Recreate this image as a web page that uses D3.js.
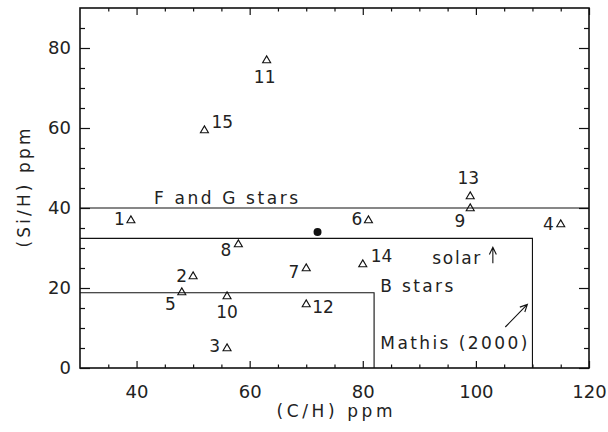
<!DOCTYPE html>
<html>
<head>
<meta charset="utf-8">
<script src="https://cdn.jsdelivr.net/npm/d3@7"></script>
<style>
  html, body { margin: 0; padding: 0; background: #fff; }
  svg { display: block; }
  text { font-family: "DejaVu Sans", "Liberation Sans", sans-serif; font-weight: normal; fill: #222; }
</style>
</head>
<body>
<svg id="chart" width="608" height="432"></svg>
<script>
// Star identifiers and their carbon / silicon abundances (ppm relative to H)
const starIds = ["1","2","3","4","5","6","7","8","9","10","11","12","13","14","15"];
const carbonPpm = [39, 50, 56, 115, 48, 81, 70, 58, 99, 56, 63, 70, 99, 80, 52];
const siliconPpm = [37, 23, 5, 36, 19, 37, 25, 31, 40, 18, 77, 16, 43, 26, 59.5];

// Solar reference point
const solarPoint = [72, 34];

// Reference abundance levels
const fgStarsSi = 40;
const mathisC = 110, mathisSi = 32.4;
const bStarsC = 82, bStarsSi = 18.8;

// Axis ticks
const xMajor = [40, 60, 80, 100, 120];
const yMajor = [0, 20, 40, 60, 80];
const xMinor = d3.range(35, 120, 5).filter(v => !xMajor.includes(v));
const yMinor = d3.range(5, 90, 5).filter(v => !yMajor.includes(v));

// Label placement around each triangle: [dx, dy, anchor]
const labelPlace = [
  [-6, 5, "end"], [-6, 6, "end"], [-7, 4, "end"], [-7, 6, "end"], [-6, 18, "end"],
  [-6, 5, "end"], [-7, 10, "end"], [-7, 12, "end"], [-5, 19, "end"], [0, 22, "middle"],
  [-2, 23, "middle"], [6, 9, "start"], [-2, -12, "middle"], [8, -2, "start"], [7, -2, "start"]
];

const svg = d3.select("#chart");
const x = d3.scaleLinear().domain([30, 120]).range([80, 589]);
const y = d3.scaleLinear().domain([0, 90]).range([368, 8]);

// Tick marks on all four sides, pointing inward
function drawAxis(axis, transform, labels) {
  const g = svg.append("g").attr("transform", transform).call(axis);
  g.select(".domain").remove();
  g.selectAll(".tick line").attr("stroke", "#111").attr("stroke-width", 1.2);
  g.selectAll("text").attr("font-size", 18).attr("fill", "#222")
    .style("font-family", "\"DejaVu Sans\", sans-serif");
  if (!labels) g.selectAll("text").remove();
  return g;
}
drawAxis(d3.axisBottom(x).tickValues(xMajor).tickSize(-7).tickPadding(17).tickFormat(d3.format("d")), "translate(0,368)", true);
drawAxis(d3.axisBottom(x).tickValues(xMinor).tickSize(-3.5).tickFormat(""), "translate(0,368)", false);
drawAxis(d3.axisTop(x).tickValues(xMajor).tickSize(-7).tickFormat(""), "translate(0,8)", false);
drawAxis(d3.axisTop(x).tickValues(xMinor).tickSize(-3.5).tickFormat(""), "translate(0,8)", false);
drawAxis(d3.axisLeft(y).tickValues(yMajor).tickSize(-10).tickPadding(9).tickFormat(d3.format("d")), "translate(80,0)", true);
drawAxis(d3.axisLeft(y).tickValues(yMinor).tickSize(-5).tickFormat(""), "translate(80,0)", false);
drawAxis(d3.axisRight(y).tickValues(yMajor).tickSize(-10).tickFormat(""), "translate(589,0)", false);
drawAxis(d3.axisRight(y).tickValues(yMinor).tickSize(-5).tickFormat(""), "translate(589,0)", false);

// Plot frame
svg.append("rect")
  .attr("x", x(30)).attr("y", y(90))
  .attr("width", x(120) - x(30)).attr("height", y(0) - y(90))
  .attr("fill", "none").attr("stroke", "#111").attr("stroke-width", 1.6);

// Reference levels: F and G stars, Mathis (2000), B stars
const refLines = svg.append("g").attr("fill", "none").attr("stroke", "#111").attr("stroke-width", 1.1);
refLines.append("line").attr("x1", x(30)).attr("x2", x(120)).attr("y1", y(fgStarsSi)).attr("y2", y(fgStarsSi));
refLines.append("path").attr("d", `M${x(30)},${y(mathisSi)}H${x(mathisC)}V${y(0)}`);
refLines.append("path").attr("d", `M${x(30)},${y(bStarsSi)}H${x(bStarsC)}V${y(0)}`);

// Annotations
function note(txt, cx, cy, len) {
  svg.append("text").attr("x", x(cx)).attr("y", y(cy)).attr("font-size", 17)
    .attr("textLength", len).attr("lengthAdjust", "spacing").text(txt);
}
note("F and G stars", 43.1, 40.9, 144);
note("solar", 92.3, 25.9, 48);
note("B stars", 83.1, 18.9, 73);
note("Mathis (2000)", 83.1, 4.7, 147);

// Arrows pointing to the solar and Mathis levels
function arrow(x0, y0, x1, y1) {
  const px0 = x(x0), py0 = y(y0), px1 = x(x1), py1 = y(y1);
  const ang = Math.atan2(py1 - py0, px1 - px0);
  const L = 8, spread = 0.45;
  const a1 = [px1 - L * Math.cos(ang - spread), py1 - L * Math.sin(ang - spread)];
  const a2 = [px1 - L * Math.cos(ang + spread), py1 - L * Math.sin(ang + spread)];
  svg.append("path")
    .attr("d", `M${px0},${py0}L${px1},${py1}M${a1[0]},${a1[1]}L${px1},${py1}L${a2[0]},${a2[1]}`)
    .attr("fill", "none").attr("stroke", "#111").attr("stroke-width", 1.1);
}
arrow(103.0, 26.2, 103.0, 30.2);
arrow(105.2, 10.25, 109.1, 15.9);

// Star triangles
const stars = starIds.map((id, i) => ({ id, c: carbonPpm[i], si: siliconPpm[i], place: labelPlace[i] }));
const tri = d3.symbol().type(d3.symbolTriangle).size(28);
svg.append("g").selectAll("path").data(stars).join("path")
  .attr("transform", d => `translate(${x(d.c)},${y(d.si) + 0.5})`)
  .attr("d", tri)
  .attr("fill", "none").attr("stroke", "#111").attr("stroke-width", 1.1);

svg.append("g").selectAll("text").data(stars).join("text")
  .attr("x", d => x(d.c) + d.place[0])
  .attr("y", d => y(d.si) + d.place[1])
  .attr("text-anchor", d => d.place[2])
  .attr("font-size", 17)
  .text(d => d.id);

// Solar point
svg.append("circle").attr("cx", x(solarPoint[0])).attr("cy", y(solarPoint[1])).attr("r", 4).attr("fill", "#111");

// Axis titles
svg.append("text").attr("x", (x(30) + x(120)) / 2).attr("y", 417).attr("text-anchor", "middle")
  .attr("font-size", 17).attr("textLength", 116).attr("lengthAdjust", "spacing").text("(C/H) ppm");
svg.append("text").attr("transform", `translate(30,${(y(0) + y(90)) / 2}) rotate(-90)`)
  .attr("text-anchor", "middle").attr("font-size", 17)
  .attr("textLength", 119).attr("lengthAdjust", "spacing").text("(Si/H) ppm");
</script>
</body>
</html>
